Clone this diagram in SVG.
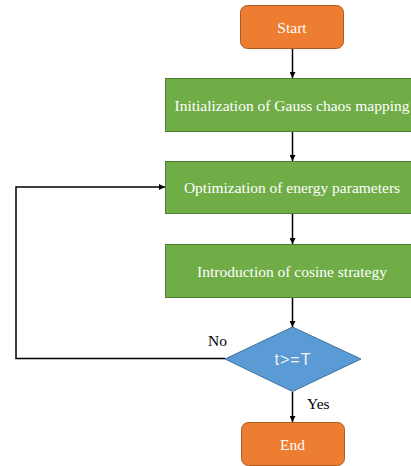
<svg xmlns="http://www.w3.org/2000/svg" width="411" height="466" viewBox="0 0 411 466">
<defs>
<marker id="arr" viewBox="0 0 10 10" refX="10" refY="5" markerWidth="6" markerHeight="6" markerUnits="userSpaceOnUse" orient="auto">
<path d="M0,0 L10,5 L0,10 z" fill="#000"/>
</marker>
<style>
.term{fill:#ED7D31;stroke:#AE5A21;stroke-width:1}
.proc{fill:#70AD47;stroke:#507E32;stroke-width:1}
.dec{fill:#5B9BD5;stroke:#41719C;stroke-width:1}
.lbl{font-family:'Liberation Serif','Times New Roman',serif;font-size:15.5px;fill:#fff;text-anchor:middle;dominant-baseline:central}
.dl{font-family:'Liberation Sans',Arial,sans-serif;font-size:16px;letter-spacing:1px;fill:#f2f2f2;text-anchor:middle;dominant-baseline:central}
.ed{font-family:'Liberation Serif','Times New Roman',serif;font-size:15.5px;fill:#000}
.con{fill:none;stroke:#000;stroke-width:1.5;marker-end:url(#arr)}
</style>
</defs>
<rect width="411" height="466" fill="#fff"/>
<g id="start"><rect class="term" x="240.5" y="5.5" width="103" height="43" rx="7"/><text class="lbl" x="292" y="27">Start</text></g>
<g id="init"><rect class="proc" x="165.5" y="78.5" width="255" height="53"/><text class="lbl" x="292" y="105">Initialization of Gauss chaos mapping</text></g>
<g id="opt"><rect class="proc" x="165.5" y="161.5" width="255" height="52"/><text class="lbl" x="292" y="187">Optimization of energy parameters</text></g>
<g id="cos"><rect class="proc" x="165.5" y="244.5" width="255" height="53"/><text class="lbl" x="292" y="271">Introduction of cosine strategy</text></g>
<g id="dec"><polygon class="dec" points="292.5,327 361,359 292.5,391.5 225,359"/><text class="dl" x="293" y="359">t&gt;=T</text></g>
<g id="end"><rect class="term" x="241.5" y="422.5" width="103" height="43" rx="7"/><text class="lbl" x="292.5" y="444">End</text></g>
<g id="connectors">
<line class="con" x1="292.5" y1="49" x2="292.5" y2="78"/>
<line class="con" x1="292.5" y1="132" x2="292.5" y2="161"/>
<line class="con" x1="292.5" y1="214" x2="292.5" y2="244"/>
<line class="con" x1="292.5" y1="298" x2="292.5" y2="327"/>
<line class="con" x1="292.5" y1="392" x2="292.5" y2="422"/>
<polyline class="con" points="225,358.5 16,358.5 16,187 165,187"/>
<text class="ed" x="208" y="346">No</text>
<text class="ed" x="307" y="409">Yes</text>
</g>
</svg>
